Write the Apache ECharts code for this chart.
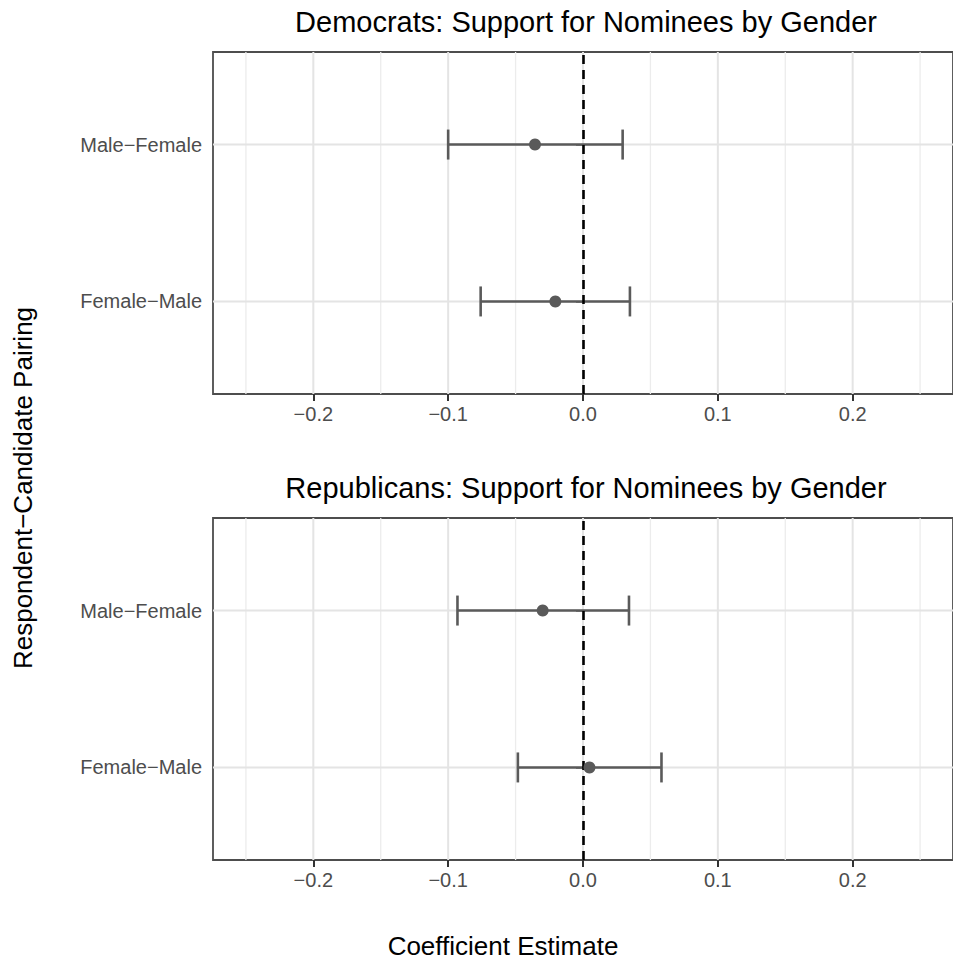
<!DOCTYPE html>
<html>
<head>
<meta charset="utf-8">
<script src="https://cdn.jsdelivr.net/npm/echarts@6/dist/echarts.min.js"></script>
<style>
html,body{margin:0;padding:0;background:#fff;}
#chart{width:953px;height:960px;}
</style>
</head>
<body>
<div id="chart"></div>
<script>
// ---- data ----
const categories = ['Female\u2212Male', 'Male\u2212Female']; // y positions 1, 2
const panelTitles = ['Democrats: Support for Nominees by Gender', 'Republicans: Support for Nominees by Gender'];
const demEstimate = [-0.0205, -0.0356];
const demLower    = [-0.0759, -0.1000];
const demUpper    = [ 0.0348,  0.0294];
const repEstimate = [ 0.0048, -0.0299];
const repLower    = [-0.0483, -0.0931];
const repUpper    = [ 0.0582,  0.0341];
const xTicks = [-0.2, -0.1, 0.0, 0.1, 0.2];
const xGridLines = [-0.25, -0.2, -0.15, -0.1, -0.05, 0, 0.05, 0.1, 0.15, 0.2, 0.25];
const yTicks = [1, 2];
const xTitle = 'Coefficient Estimate';
const yTitle = 'Respondent\u2212Candidate Pairing';

// ---- layout / style ----
const FONT = '"Liberation Sans", Arial, Helvetica, sans-serif';
const X_MIN = -0.2744, X_MAX = 0.2744;
const Y_MIN = 0.41, Y_MAX = 2.59;
const GRID_LEFT = 213, GRID_W = 744, GRID_H = 342;
const GRID_TOPS = [52, 518];
const INK = '#5a5a5a';

const chart = echarts.init(document.getElementById('chart'), null, {renderer: 'svg'});

function fmtTick(v) {
  const r = Math.round(v * 10) / 10;
  const s = Math.abs(r).toFixed(1);
  return r < 0 ? '\u2212' + s : s;
}

function vGridRender(params, api) {
  const v = api.value(0);
  const a = api.coord([v, Y_MIN]);
  const b = api.coord([v, Y_MAX]);
  const major = Math.abs(v * 10 - Math.round(v * 10)) < 1e-6;
  return {type: 'line', shape: {x1: a[0], y1: a[1], x2: b[0], y2: b[1]},
    style: {stroke: major ? '#e4e4e4' : '#ececec', lineWidth: major ? 2 : 1.3}};
}
function hGridRender(params, api) {
  const y = api.value(1);
  const a = api.coord([X_MIN, y]);
  const b = api.coord([X_MAX, y]);
  return {type: 'line', shape: {x1: a[0], y1: a[1], x2: b[0], y2: b[1]},
    style: {stroke: '#e4e4e4', lineWidth: 2}};
}
function errRender(params, api) {
  const y = api.value(2);
  const p1 = api.coord([api.value(0), y]);
  const p2 = api.coord([api.value(1), y]);
  const h = 15;
  const st = {stroke: INK, lineWidth: 2.6};
  return {type: 'group', children: [
    {type: 'line', shape: {x1: p1[0], y1: p1[1], x2: p2[0], y2: p2[1]}, style: st},
    {type: 'line', shape: {x1: p1[0], y1: p1[1] - h, x2: p1[0], y2: p1[1] + h}, style: st},
    {type: 'line', shape: {x1: p2[0], y1: p2[1] - h, x2: p2[0], y2: p2[1] + h}, style: st}
  ]};
}

const panels = [
  {est: demEstimate, lo: demLower, hi: demUpper},
  {est: repEstimate, lo: repLower, hi: repUpper}
];

const grids = [], xAxes = [], yAxes = [], series = [];
panels.forEach((p, i) => {
  grids.push({left: GRID_LEFT, top: GRID_TOPS[i], width: GRID_W, height: GRID_H,
    show: true, borderColor: '#4d4d4d', borderWidth: 1.8, backgroundColor: '#fff', containLabel: false});
  xAxes.push({type: 'value', gridIndex: i, min: X_MIN, max: X_MAX,
    axisLine: {show: false}, splitLine: {show: false},
    axisTick: {show: true, customValues: xTicks, length: 7, lineStyle: {color: '#333', width: 2}},
    axisLabel: {show: true, customValues: xTicks, formatter: fmtTick, margin: 10,
      color: '#4d4d4d', fontSize: 20, fontFamily: FONT}});
  yAxes.push({type: 'value', gridIndex: i, min: Y_MIN, max: Y_MAX,
    axisLine: {show: false}, splitLine: {show: false},
    axisTick: {show: true, customValues: yTicks, length: 7, lineStyle: {color: '#333', width: 2}},
    axisLabel: {show: true, customValues: yTicks, formatter: v => categories[Math.round(v) - 1], margin: 11,
      color: '#4d4d4d', fontSize: 20, fontFamily: FONT}});
  series.push({type: 'custom', xAxisIndex: i, yAxisIndex: i, z: 1, silent: true,
    data: xGridLines.map(v => [v, 1]), encode: {x: 0, y: 1}, renderItem: vGridRender, clip: true});
  series.push({type: 'custom', xAxisIndex: i, yAxisIndex: i, z: 1, silent: true,
    data: yTicks.map(v => [0, v]), encode: {x: 0, y: 1}, renderItem: hGridRender, clip: true});
  series.push({type: 'custom', xAxisIndex: i, yAxisIndex: i, z: 3, silent: true,
    data: categories.map((c, k) => [p.lo[k], p.hi[k], k + 1]), encode: {x: [0, 1], y: 2},
    renderItem: errRender, clip: true});
  series.push({type: 'scatter', xAxisIndex: i, yAxisIndex: i, z: 5, silent: true,
    symbol: 'circle', symbolSize: 12, itemStyle: {color: INK, opacity: 1},
    data: categories.map((c, k) => [p.est[k], k + 1]),
    markLine: {silent: true, symbol: 'none', z: 4, label: {show: false},
      lineStyle: {color: '#000', width: 2.6, type: [9, 6]},
      data: [{xAxis: 0}]}});
});

const graphics = [];
panelTitles.forEach((t, i) => {
  graphics.push({type: 'text', x: 586, y: GRID_TOPS[i] - 30,
    style: {text: t, fill: '#000', font: '29px ' + FONT, textAlign: 'center', textVerticalAlign: 'middle'}});
});
graphics.push({type: 'text', x: 503, y: 946,
  style: {text: xTitle, fill: '#000', font: '26px ' + FONT, textAlign: 'center', textVerticalAlign: 'middle'}});
graphics.push({type: 'text', x: 23, y: 488, rotation: Math.PI / 2,
  style: {text: yTitle, fill: '#000', font: '26px ' + FONT, textAlign: 'center', textVerticalAlign: 'middle'}});

chart.setOption({
  backgroundColor: '#fff',
  animation: false,
  grid: grids,
  xAxis: xAxes,
  yAxis: yAxes,
  series: series,
  graphic: graphics
});
</script>
</body>
</html>
